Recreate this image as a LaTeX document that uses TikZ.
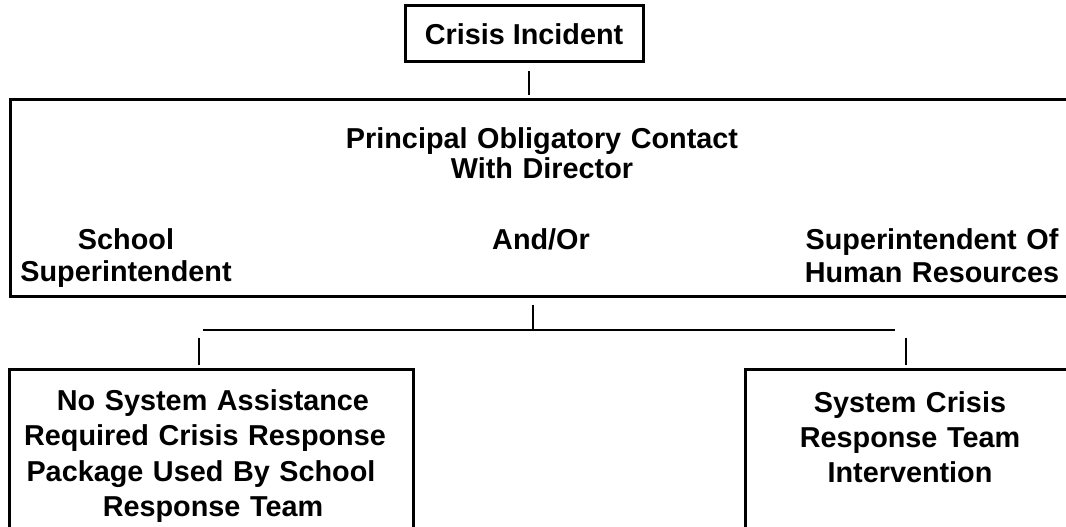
\documentclass[tikz,border=0pt]{standalone}
\usepackage{fontspec}
\setmainfont{Liberation Sans}
\usetikzlibrary{positioning}

\tikzset{
  box/.style={draw, line width=3pt, inner sep=0pt},
  txt/.style={font=\bfseries\fontsize{28.8}{#1}\selectfont, align=center,
    text width=420pt, inner sep=0pt, anchor=base},
  txt/.default=30pt,
  stem/.style={line width=2pt},
}

\begin{document}
\begin{tikzpicture}[x=1pt,y=-1pt]
  \clip (0,0) rectangle (1066,527);

  % Incident box
  \node[box, minimum width=238pt, minimum height=56pt,
    font=\bfseries\fontsize{28.8}{30}\selectfont] (incident) at (524,34) {Crisis Incident};

  % Principal contact box
  \node[box, minimum width=1062pt, minimum height=197pt] (contact) at (541,197.5) {};
  \node[txt] (principal) at (542,148) {Principal Obligatory Contact\\With Director};
  \node[txt=32pt] (school) at (126,249) {School\\Superintendent};
  \node[txt] (andor) at (541,249) {And/Or};
  \node[txt=33pt] (humres) at (932,249) {Superintendent Of\\Human Resources};

  % Outcome boxes
  \node[box, minimum width=404pt, minimum height=200pt, anchor=north] (noassist) at (211,368) {};
  \node[txt=35.5pt] at ([xshift=2pt,yshift=-42pt]noassist.north)
    {No System Assistance\\Required Crisis Response\kern16pt\\Package Used By School\kern24pt\\Response Team};
  \node[box, minimum width=330pt, minimum height=200pt, anchor=north] (systeam) at (910,368) {};
  \node[txt=35pt] at ([yshift=-44pt]systeam.north)
    {System Crisis\\Response Team\\Intervention};

  % Connectors
  \coordinate (fork) at (533,330);
  \coordinate (forkL) at (203,330);
  \coordinate (forkR) at (895,330);
  \draw[stem] ([xshift=5pt,yshift=-8pt]incident.south) -- ([xshift=5pt,yshift=2pt]incident.south |- contact.north);
  \draw[stem] ([yshift=-7pt]contact.south -| fork) -- (fork);
  \draw[stem] (forkL) -- (forkR);
  \draw[stem] ([xshift=-12pt,yshift=3pt]noassist.north) -- ([xshift=-12pt,yshift=30pt]noassist.north);
  \draw[stem] ([xshift=-4pt,yshift=3pt]systeam.north) -- ([xshift=-4pt,yshift=30pt]systeam.north);
\end{tikzpicture}
\end{document}
